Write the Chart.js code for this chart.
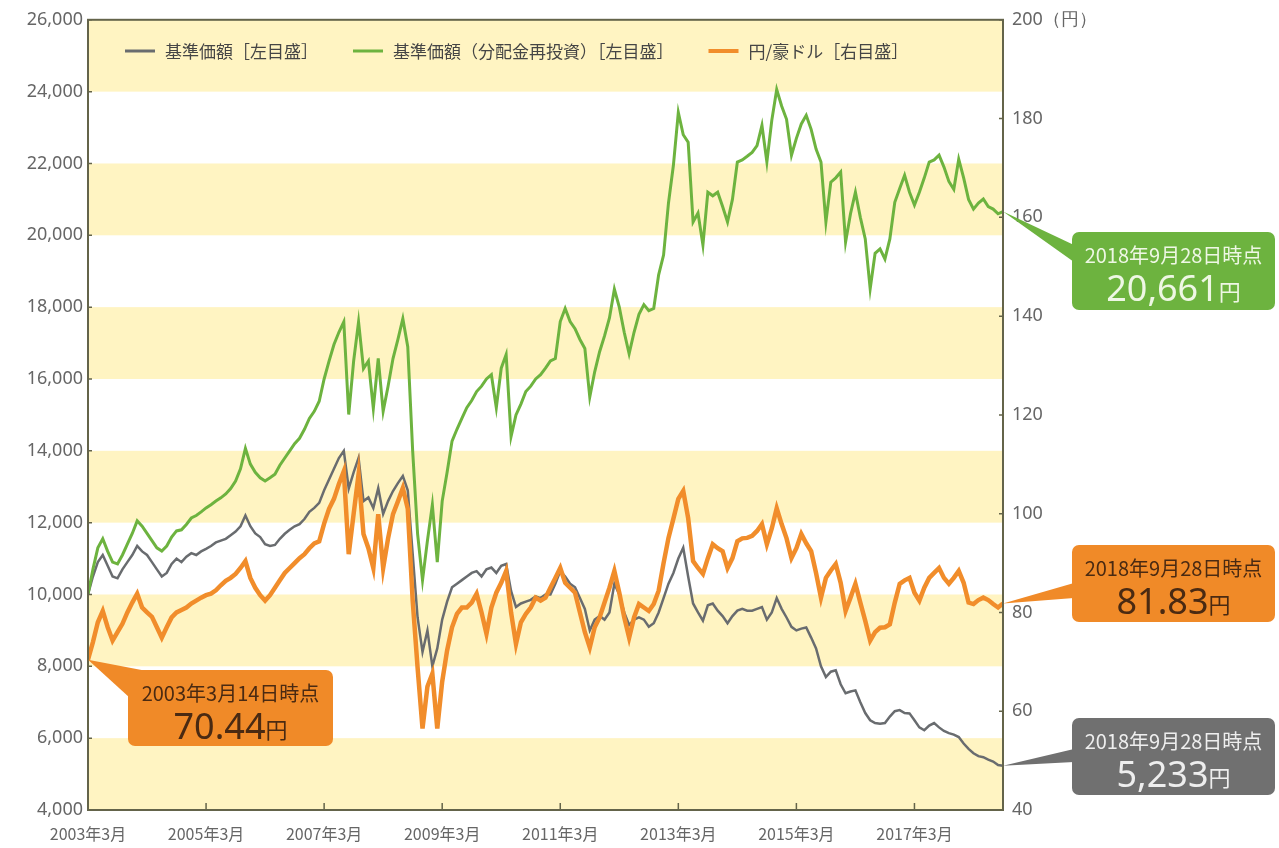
<!DOCTYPE html>
<html lang="ja">
<head>
<meta charset="utf-8">
<title>基準価額と円/豪ドルの推移</title>
<script src="https://cdn.jsdelivr.net/npm/chart.js@4"></script>
<style>
  html, body { margin: 0; padding: 0; background: #fff; }
  #wrap { position: relative; width: 1279px; height: 848px; }
</style>
</head>
<body>
<div id="wrap"><canvas id="fundChart"></canvas></div>
<script>
// ----------------------------------------------------
// Data (monthly, 2003年3月 = index 0 ... 2018年9月 = index 186)
// ----------------------------------------------------
const tickMonths = [0, 24, 48, 72, 96, 120, 144, 168];
const tickLabels = ['2003年3月', '2005年3月', '2007年3月', '2009年3月', '2011年3月', '2013年3月', '2015年3月', '2017年3月'];
const rightTickValues = [40, 60, 80, 100, 120, 140, 160, 180, 200];
const rightTickLabels = ['40', '60', '80', '100', '120', '140', '160', '180', '200（円）'];

// 基準価額 [左目盛]
const navValues = [
  10000, 10500, 10900, 11100, 10800, 10500, 10450, 10700, 10900, 11100, 11350, 11200,
  11100, 10900, 10700, 10500, 10600, 10850, 11000, 10900, 11050, 11150, 11100, 11200,
  11270, 11350, 11450, 11500, 11550, 11650, 11750, 11900, 12200, 11900, 11700, 11600,
  11400, 11350, 11380, 11550, 11690, 11800, 11900, 11960, 12100, 12300, 12410, 12550,
  12900, 13200, 13500, 13800, 14000, 12950, 13400, 13800, 12600, 12700, 12410, 12960,
  12240, 12600, 12880, 13100, 13300, 12900, 11130, 9360, 8400, 9000, 8000, 8500,
  9300, 9800, 10200, 10300, 10400, 10500, 10600, 10650, 10500, 10700, 10750, 10600,
  10800, 10850, 10100, 9650, 9750, 9800, 9850, 9950, 9900, 10000, 10000, 10300,
  10650, 10500, 10300, 10200, 9900, 9600, 9000, 9300, 9400, 9300, 9500, 10300,
  10000, 9500, 9150, 9300, 9360, 9300, 9100, 9200, 9500, 9900, 10300, 10600,
  11000, 11300, 10500, 9750, 9500, 9270, 9700, 9750, 9550, 9400, 9200, 9400,
  9550, 9600, 9550, 9550, 9600, 9650, 9300, 9500, 9900, 9600, 9360, 9100,
  9000, 9050, 9080, 8800, 8500, 8000, 7700, 7850, 7890, 7500, 7250, 7300,
  7330, 7000, 6700, 6500, 6420, 6400, 6420, 6600, 6750, 6780, 6700, 6690,
  6500, 6300, 6220, 6350, 6420, 6300, 6200, 6140, 6100, 6030, 5850, 5700,
  5580, 5500, 5470, 5400, 5350, 5250, 5233
];

// 基準価額（分配金再投資）[左目盛]
const navReinvested = [
  10000, 10700, 11300, 11550, 11200, 10900, 10850, 11100, 11400, 11700, 12050, 11900,
  11700, 11500, 11300, 11210, 11350, 11600, 11770, 11800, 11950, 12130, 12200, 12300,
  12410, 12500, 12600, 12690, 12800, 12950, 13160, 13500, 14070, 13630, 13400, 13250,
  13160, 13250, 13350, 13600, 13800, 14000, 14200, 14350, 14600, 14900, 15100, 15380,
  16000, 16500, 16960, 17300, 17590, 15010, 16500, 17590, 16290, 16500, 15180, 16570,
  15100, 15800, 16570, 17100, 17680, 16900, 13990, 11690, 10400, 11500, 12500, 10900,
  12600, 13400, 14270, 14600, 14900, 15200, 15400, 15650, 15800, 16000, 16120, 15200,
  16300, 16680, 14400, 15000, 15300, 15650, 15800, 16000, 16120, 16300, 16500, 16570,
  17600, 17960, 17600, 17400, 17100, 16850, 15500, 16200, 16760, 17200, 17700, 18500,
  18000, 17300, 16700, 17300, 17800, 18070, 17900, 17960, 18900, 19450, 20900, 21950,
  23420, 22800, 22590, 20370, 20620, 19730, 21200, 21100, 21200, 20800, 20370, 21000,
  22040, 22100, 22200, 22310, 22500, 23060, 22040, 23200, 24060, 23600, 23230, 22230,
  22700, 23100, 23340, 22950, 22400, 22040, 20370, 21480, 21600, 21760, 19810, 20600,
  21200, 20500, 19900, 18510, 19500, 19620, 19340, 19900, 20920, 21300, 21670, 21200,
  20840, 21200, 21600, 22040, 22100, 22230, 21900, 21500, 21280, 22120, 21600, 21000,
  20730, 20900, 21010, 20800, 20730, 20600, 20661
];

// 円/豪ドル [右目盛]
const audJpy = [
  70.44, 74, 78, 80.3, 77, 74.3, 76, 77.7, 80, 82, 83.8, 81,
  80, 79.1, 77, 74.9, 77, 79, 80, 80.5, 81, 81.8, 82.4, 83,
  83.5, 83.8, 84.5, 85.5, 86.4, 87, 87.8, 89, 90.4, 87, 85, 83.5,
  82.4, 83.5, 85, 86.5, 88, 89, 90, 91, 91.8, 93, 94, 94.4,
  98, 101, 103, 106, 108.6, 91.8, 100, 108, 95.9, 93, 89, 99.9,
  89, 95, 99.9, 102.5, 105.2, 101, 82.4, 68.8, 56.5, 65, 67.6, 56.5,
  66, 72.3, 77, 79.7, 81, 81, 82, 83.8, 80, 75.7, 81, 84,
  86, 88.4, 80, 73.6, 78, 79.7, 81, 83, 82.4, 83, 85, 87,
  89, 86, 85, 84, 80, 76, 72.9, 77, 79, 82, 85, 88.4,
  84, 79, 74.9, 79, 81.7, 81, 80.3, 81.7, 84.4, 90, 95.1, 99,
  103, 104.6, 99.1, 90.4, 89, 87.8, 91, 93.8, 93, 92.4, 89, 91,
  94.4, 95, 95.1, 95.5, 96.5, 97.9, 93.8, 97, 101.1, 97.9, 95, 91,
  93, 95.9, 94, 92.4, 88, 83, 87, 88.5, 89.8, 86, 80.3, 83,
  85.8, 82, 78.3, 74.3, 76, 76.9, 77, 77.6, 82, 85.8, 86.5, 87,
  84, 82.4, 85, 87, 88, 89, 87, 85.8, 87, 88.4, 86, 82,
  81.7, 82.5, 83, 82.5, 81.7, 81, 81.83
];

const toPoints = arr => arr.map((v, i) => ({ x: i, y: v }));

const JP_FONT = '"Noto Sans CJK JP", "Noto Sans", sans-serif';
const NUM_FONT = '"Noto Sans", "DejaVu Sans", sans-serif';
const FRAME_COLOR = '#64644a';

// ----------------------------------------------------
// Callout boxes (layout only; tip comes from the data)
// ----------------------------------------------------
const callouts = [
  { ds: 1, idx: 186, date: '2018年9月28日時点', fmt: v => v.toLocaleString('en-US'),
    x: 1072, y: 232, w: 203, h: 78, fill: '#6db33f', text: '#eef7e4', base: [[1074, 245], [1074, 262]] },
  { ds: 2, idx: 186, date: '2018年9月28日時点', fmt: v => v.toFixed(2),
    x: 1072, y: 545, w: 203, h: 77, fill: '#f08a28', text: '#4a2a12', base: [[1074, 583], [1074, 598]] },
  { ds: 0, idx: 186, date: '2018年9月28日時点', fmt: v => v.toLocaleString('en-US'),
    x: 1072, y: 718, w: 203, h: 77, fill: '#707070', text: '#eeeeee', base: [[1074, 749], [1074, 762]] },
  { ds: 2, idx: 0, date: '2003年3月14日時点', fmt: v => v.toFixed(2),
    x: 128, y: 670, w: 205, h: 76, fill: '#f08a28', text: '#4a2a12', base: [[152, 672], [130, 698]] }
];

// ----------------------------------------------------
// Plugins: stripes, frame + inner ticks, legend, callouts
// ----------------------------------------------------
const stripePlugin = {
  id: 'stripes',
  beforeDatasetsDraw(chart) {
    const { ctx, chartArea: a, scales: { y } } = chart;
    const vals = y.ticks.map(t => t.value);
    ctx.save();
    ctx.fillStyle = '#fff4c2';
    for (let i = 0; i < vals.length - 1; i += 2) {
      const y1 = y.getPixelForValue(vals[i + 1]);
      const y0 = y.getPixelForValue(vals[i]);
      ctx.fillRect(a.left, y1, a.right - a.left, y0 - y1);
    }
    ctx.restore();
  }
};

const framePlugin = {
  id: 'frame',
  afterDatasetsDraw(chart) {
    const { ctx, chartArea: a, scales } = chart;
    ctx.save();
    ctx.strokeStyle = FRAME_COLOR;
    ctx.lineWidth = 2;
    ctx.strokeRect(a.left, a.top, a.right - a.left, a.bottom - a.top);
    ctx.lineWidth = 1.5;
    ctx.beginPath();
    scales.y.ticks.forEach(t => {
      const py = scales.y.getPixelForValue(t.value);
      ctx.moveTo(a.left, py); ctx.lineTo(a.left + 4, py);
    });
    scales.y2.ticks.forEach(t => {
      const py = scales.y2.getPixelForValue(t.value);
      ctx.moveTo(a.right, py); ctx.lineTo(a.right - 4, py);
    });
    scales.x.ticks.forEach(t => {
      const px = scales.x.getPixelForValue(t.value);
      ctx.moveTo(px, a.bottom); ctx.lineTo(px, a.bottom - 7);
    });
    ctx.stroke();
    ctx.restore();
  }
};

const legendPlugin = {
  id: 'innerLegend',
  afterDatasetsDraw(chart) {
    const { ctx } = chart;
    let x = 125;
    const y = 51;
    ctx.save();
    ctx.font = '17px ' + JP_FONT;
    ctx.textBaseline = 'middle';
    ctx.textAlign = 'left';
    [0, 1, 2].forEach(i => {
      const ds = chart.data.datasets[i];
      ctx.strokeStyle = ds.borderColor;
      ctx.lineWidth = i === 2 ? 4 : 3;
      ctx.beginPath();
      ctx.moveTo(x, y); ctx.lineTo(x + 30, y);
      ctx.stroke();
      ctx.fillStyle = '#454545';
      ctx.fillText(ds.label, x + 40, y + 1);
      x += 40 + ctx.measureText(ds.label).width + 35;
    });
    ctx.restore();
  }
};

const calloutPlugin = {
  id: 'callouts',
  afterDraw(chart) {
    const { ctx, scales } = chart;
    ctx.save();
    callouts.forEach(c => {
      const ds = chart.data.datasets[c.ds];
      const pt = ds.data[c.idx];
      const ys = scales[ds.yAxisID];
      const tx = scales.x.getPixelForValue(pt.x);
      const ty = ys.getPixelForValue(pt.y);

      ctx.fillStyle = c.fill;
      ctx.beginPath();
      ctx.moveTo(tx, ty);
      ctx.lineTo(c.base[0][0], c.base[0][1]);
      ctx.lineTo(c.base[1][0], c.base[1][1]);
      ctx.closePath();
      ctx.fill();
      ctx.beginPath();
      ctx.roundRect(c.x, c.y, c.w, c.h, 7);
      ctx.fill();

      const cx = c.x + c.w / 2;
      ctx.fillStyle = c.text;
      ctx.textBaseline = 'alphabetic';
      ctx.textAlign = 'center';
      ctx.font = '20px ' + JP_FONT;
      ctx.fillText(c.date, cx, c.y + 31);

      const num = c.fmt(pt.y);
      ctx.font = '36px ' + NUM_FONT;
      const wNum = ctx.measureText(num).width;
      ctx.font = '22px ' + JP_FONT;
      const wYen = ctx.measureText('円').width;
      const sx = cx - (wNum + wYen) / 2;
      ctx.textAlign = 'left';
      ctx.font = '36px ' + NUM_FONT;
      ctx.fillText(num, sx, c.y + 69);
      ctx.font = '22px ' + JP_FONT;
      ctx.fillText('円', sx + wNum, c.y + 68);
    });
    ctx.restore();
  }
};

// ----------------------------------------------------
// Chart
// ----------------------------------------------------
Chart.defaults.font.family = JP_FONT;

new Chart(document.getElementById('fundChart'), {
  type: 'line',
  data: {
    datasets: [
      {
        label: '基準価額［左目盛］',
        data: toPoints(navValues),
        yAxisID: 'y',
        borderColor: '#696c6f',
        borderWidth: 2.5,
        order: 3
      },
      {
        label: '基準価額（分配金再投資）［左目盛］',
        data: toPoints(navReinvested),
        yAxisID: 'y',
        borderColor: '#6db33f',
        borderWidth: 3,
        order: 2
      },
      {
        label: '円/豪ドル［右目盛］',
        data: toPoints(audJpy),
        yAxisID: 'y2',
        borderColor: '#f18d2b',
        borderWidth: 4.5,
        order: 1
      }
    ]
  },
  options: {
    responsive: true,
    maintainAspectRatio: false,
    animation: false,
    events: [],
    elements: { point: { radius: 0 }, line: { tension: 0 } },
    layout: { padding: { top: 17, left: 0, right: 0, bottom: 0 } },
    plugins: { legend: { display: false }, tooltip: { enabled: false } },
    scales: {
      x: {
        type: 'linear',
        min: 0,
        max: navValues.length - 1,
        grid: { display: false, drawTicks: false },
        border: { display: false },
        afterBuildTicks: s => { s.ticks = tickMonths.map(v => ({ value: v })); },
        afterFit: s => { s.height = 38; },
        ticks: {
          autoSkip: false,
          maxRotation: 0,
          padding: 14,
          color: '#666',
          font: { size: 16, family: JP_FONT },
          callback: (v, i) => tickLabels[i]
        }
      },
      y: {
        position: 'left',
        min: 4000,
        max: 26000,
        grid: { display: false, drawTicks: false },
        border: { display: false },
        afterFit: s => { s.width = 88; },
        ticks: {
          stepSize: 2000,
          padding: 5,
          color: '#666',
          font: { size: 18, family: NUM_FONT },
          callback: v => v.toLocaleString('en-US')
        }
      },
      y2: {
        position: 'right',
        min: 40,
        max: 200,
        grid: { display: false, drawTicks: false },
        border: { display: false },
        afterBuildTicks: s => { s.ticks = rightTickValues.map(v => ({ value: v })); },
        afterFit: s => { s.width = 276; },
        ticks: {
          padding: 9,
          color: '#666',
          font: { size: 18, family: NUM_FONT },
          callback: (v, i) => rightTickLabels[i]
        }
      }
    }
  },
  plugins: [stripePlugin, framePlugin, legendPlugin, calloutPlugin]
});
</script>
</body>
</html>
